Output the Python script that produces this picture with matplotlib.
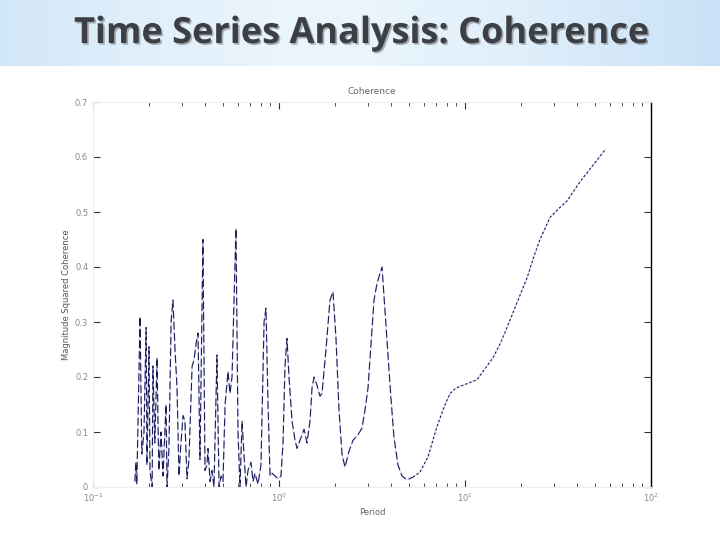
import matplotlib
matplotlib.use("Agg")
import matplotlib.pyplot as plt
import matplotlib.ticker as mticker
import matplotlib.patheffects as pe
import numpy as np

# Coherence values (period vs. magnitude squared coherence)
period = [0.168, 0.170, 0.172, 0.179, 0.183, 0.188, 0.193, 0.195, 0.200, 0.2025,
          0.208, 0.210, 0.215, 0.221, 0.224, 0.226, 0.232, 0.238, 0.247, 0.250,
          0.256, 0.263, 0.269, 0.276, 0.283, 0.290, 0.297, 0.305, 0.312, 0.320,
          0.328, 0.341, 0.349, 0.358, 0.367, 0.376, 0.390, 0.400, 0.410, 0.415,
          0.426, 0.436, 0.447, 0.464, 0.476, 0.488, 0.500, 0.513, 0.532, 0.545,
          0.559, 0.587, 0.602, 0.617, 0.633, 0.648, 0.665, 0.681, 0.707, 0.725,
          0.743, 0.771, 0.800, 0.831, 0.851, 0.873, 0.895, 0.917, 0.952, 0.988,
          1.025, 1.051, 1.077, 1.104, 1.132, 1.175, 1.219, 1.250, 1.297, 1.363,
          1.414, 1.468, 1.505, 1.543, 1.601, 1.661, 1.703, 1.789, 1.880, 1.951,
          2.025, 2.102, 2.181, 2.264, 2.378, 2.500, 2.659, 2.794, 2.900, 3.010,
          3.123, 3.242, 3.364, 3.579, 3.715, 3.855, 4.001, 4.152, 4.363, 4.585,
          4.877, 5.253, 5.730, 6.326, 7.071, 7.711, 8.305, 8.946, 9.755, 10.64,
          11.60, 12.81, 14.14, 15.43, 16.82, 19.04, 21.54, 23.50, 25.31, 28.64,
          31.62, 35.36, 41.52, 48.77, 56.58]
coherence = [0.01, 0.045, 0.005, 0.31, 0.06, 0.10, 0.29, 0.04, 0.255, 0.03,
             0.0, 0.22, 0.08, 0.235, 0.10, 0.03, 0.10, 0.02, 0.15, 0.0,
             0.07, 0.30, 0.34, 0.25, 0.18, 0.02, 0.08, 0.13, 0.12, 0.015,
             0.05, 0.22, 0.23, 0.26, 0.28, 0.05, 0.45, 0.03, 0.04, 0.07,
             0.01, 0.03, 0.0, 0.24, 0.0, 0.02, 0.01, 0.15, 0.21, 0.17,
             0.20, 0.47, 0.10, 0.0, 0.12, 0.06, 0.0, 0.03, 0.045, 0.01,
             0.025, 0.005, 0.04, 0.30, 0.325, 0.15, 0.02, 0.025, 0.02, 0.015,
             0.02, 0.08, 0.22, 0.27, 0.20, 0.12, 0.085, 0.07, 0.085, 0.105,
             0.08, 0.12, 0.18, 0.20, 0.185, 0.165, 0.17, 0.25, 0.34, 0.355,
             0.27, 0.14, 0.06, 0.036, 0.065, 0.085, 0.095, 0.107, 0.14, 0.18,
             0.26, 0.34, 0.37, 0.40, 0.32, 0.24, 0.16, 0.09, 0.04, 0.02,
             0.013, 0.018, 0.027, 0.055, 0.11, 0.145, 0.17, 0.18, 0.185, 0.19,
             0.195, 0.215, 0.235, 0.26, 0.29, 0.335, 0.38, 0.42, 0.45, 0.49,
             0.505, 0.52, 0.555, 0.585, 0.613]

slide_title = "Time Series Analysis: Coherence"
ytick_vals = [0, 0.1, 0.2, 0.3, 0.4, 0.5, 0.6, 0.7]
ytick_labels = ["0", "0.1", "0.2", "0.3", "0.4", "0.5", "0.6", "0.7"]

fig = plt.figure(figsize=(7.2, 5.4), dpi=100)

# light blue header band with horizontal gradient
band = fig.add_axes([0, 1 - 66 / 540, 1, 66 / 540])
grad = np.linspace(0, 1, 256)
shade = 1 - 0.9 * np.abs(grad - 0.45) ** 1.6 * 2.2
cols = np.zeros((1, 256, 3))
light = np.array([0.92, 0.96, 0.99])
blue = np.array([0.74, 0.86, 0.96])
for i in range(256):
    cols[0, i] = blue + (light - blue) * np.clip(shade[i], 0, 1)
band.imshow(cols, aspect="auto", extent=[0, 1, 0, 1])
band.axis("off")
fig.text(0.503, 0.937, slide_title, ha="center", va="center",
         fontsize=26, fontweight="bold", family="Open Sans", color="#3c3f44",
         path_effects=[pe.withSimplePatchShadow(offset=(1.2, -1.2),
                                                shadow_rgbFace="#8a9096", alpha=0.7)])

ax = fig.add_axes([93 / 720, 1 - 487 / 540, (651 - 93) / 720, (487 - 102) / 540])
p = np.array(period)
c = np.array(coherence)
ax.plot(p, c, color="#dcdcf4", lw=1.0, zorder=1)
cut = 111
ax.plot(p[:cut + 1], c[:cut + 1], color="#1c1c5a", lw=0.8, dashes=(7, 3), zorder=2)
ax.plot(p[cut:], c[cut:], color="#1c1c5a", lw=0.8, dashes=(2, 2), zorder=2)

ax.set_xscale("log")
ax.set_xlim(0.1, 100)
ax.set_ylim(0, 0.7)
ax.set_yticks(ytick_vals)
ax.set_yticklabels(ytick_labels)
ax.xaxis.set_major_locator(mticker.LogLocator(base=10))
ax.xaxis.set_minor_locator(mticker.LogLocator(base=10, subs=np.arange(2, 10)))
ax.xaxis.set_minor_formatter(mticker.NullFormatter())
ax.tick_params(which="both", direction="in", top=True, right=True,
               labelsize=6, labelcolor="#888888", color="#333333")
ax.tick_params(which="major", length=5, width=0.8)
ax.tick_params(which="minor", length=3, width=0.6)
for side in ["left", "top", "bottom"]:
    ax.spines[side].set_color("#eeeeee")
ax.spines["right"].set_color("black")
ax.spines["right"].set_linewidth(1.0)

ax.set_title("Coherence", fontsize=6.5, color="#666666", pad=6)
ax.set_xlabel("Period", fontsize=6, color="#666666", labelpad=3)
ax.set_ylabel("Magnitude Squared Coherence", fontsize=6, color="#555555", labelpad=3)

fig.savefig("out.png", dpi=100)
